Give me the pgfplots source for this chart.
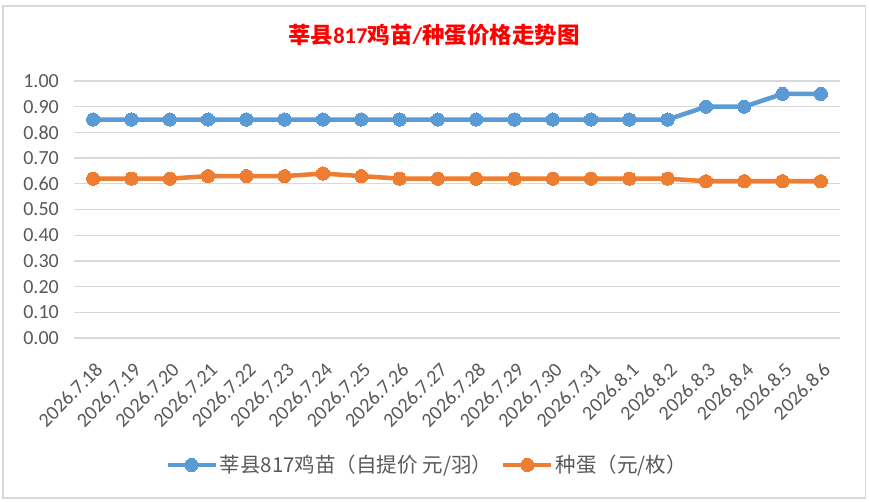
\documentclass[border=0pt]{standalone}
\usepackage{pgfplots}
\pgfplotsset{compat=1.18}
\usepackage{fontspec}
\setmainfont{Carlito}
\newfontfamily\cjk{Noto Sans CJK SC}
\definecolor{sblue}{HTML}{5B9BD5}
\definecolor{sorange}{HTML}{ED7D31}
\definecolor{gridc}{HTML}{D9D9D9}
\definecolor{txt}{HTML}{595959}
\begin{document}
\begin{tikzpicture}[x=1pt,y=1pt]
\path[fill=white] (0,0) rectangle (869,501);
\draw[gridc, line width=1.5pt] (3,3) rectangle (865.5,495);
\node[text=red, font=\fontsize{22.5}{27}\selectfont\bfseries] at (434,466) {{\cjk 莘县}817{\cjk 鸡苗}/{\cjk 种蛋价格走势图}};
\begin{axis}[
  at={(74pt,163pt)}, anchor=south west,
  scale only axis, width=766pt, height=257pt,
  xmin=-0.5, xmax=19.5, ymin=0, ymax=1,
  ytick={0,0.1,0.2,0.3,0.4,0.5,0.6,0.7,0.8,0.9,1.0},
  xtick={0,...,19},
  xticklabels={2026.7.18,2026.7.19,2026.7.20,2026.7.21,2026.7.22,2026.7.23,2026.7.24,2026.7.25,2026.7.26,2026.7.27,2026.7.28,2026.7.29,2026.7.30,2026.7.31,2026.8.1,2026.8.2,2026.8.3,2026.8.4,2026.8.5,2026.8.6},
  axis line style={draw=none},
  major tick length=0pt,
  ymajorgrids,
  grid style={gridc, line width=1.3pt},
  tick label style={text=txt, font=\fontsize{20}{24}\selectfont},
  yticklabel style={anchor=east, inner sep=0pt, xshift=-15pt},
  xticklabel style={inner sep=0pt, xshift=6pt, yshift=-28pt, rotate=45, anchor=east},
  /pgf/number format/assume math mode=true,
  yticklabel={\pgfmathprintnumber[fixed, fixed zerofill, precision=2]{\tick}},
  legend columns=2,
  legend style={at={(axis description cs:0.4608,-0.494)}, anchor=center, draw=none, fill=none,
    text=txt, font=\fontsize{20.5}{24}\selectfont, inner sep=0pt,
    /tikz/every even column/.append style={column sep=7pt},
    nodes={inner xsep=2pt}},
  legend image code/.code={\draw[mark repeat=2, mark phase=2, #1] plot coordinates {(0pt,0pt) (24pt,0pt) (48pt,0pt)};},
]
\addplot[sblue, line width=4.5pt, line join=round, mark=*, mark size=6.6pt, mark options={solid, fill=sblue, draw=sblue, line width=0pt}] coordinates {
(0,0.85) (1,0.85) (2,0.85) (3,0.85) (4,0.85) (5,0.85) (6,0.85) (7,0.85) (8,0.85) (9,0.85)
(10,0.85) (11,0.85) (12,0.85) (13,0.85) (14,0.85) (15,0.85) (16,0.90) (17,0.90) (18,0.95) (19,0.95)};
\addlegendentry{{\cjk 莘县817鸡苗（自提价 元/羽）}}
\addplot[sorange, line width=4.5pt, line join=round, mark=*, mark size=6.6pt, mark options={solid, fill=sorange, draw=sorange, line width=0pt}] coordinates {
(0,0.62) (1,0.62) (2,0.62) (3,0.63) (4,0.63) (5,0.63) (6,0.64) (7,0.63) (8,0.62) (9,0.62)
(10,0.62) (11,0.62) (12,0.62) (13,0.62) (14,0.62) (15,0.62) (16,0.61) (17,0.61) (18,0.61) (19,0.61)};
\addlegendentry{{\cjk 种蛋（元/枚）}}
\end{axis}
\end{tikzpicture}
\end{document}
